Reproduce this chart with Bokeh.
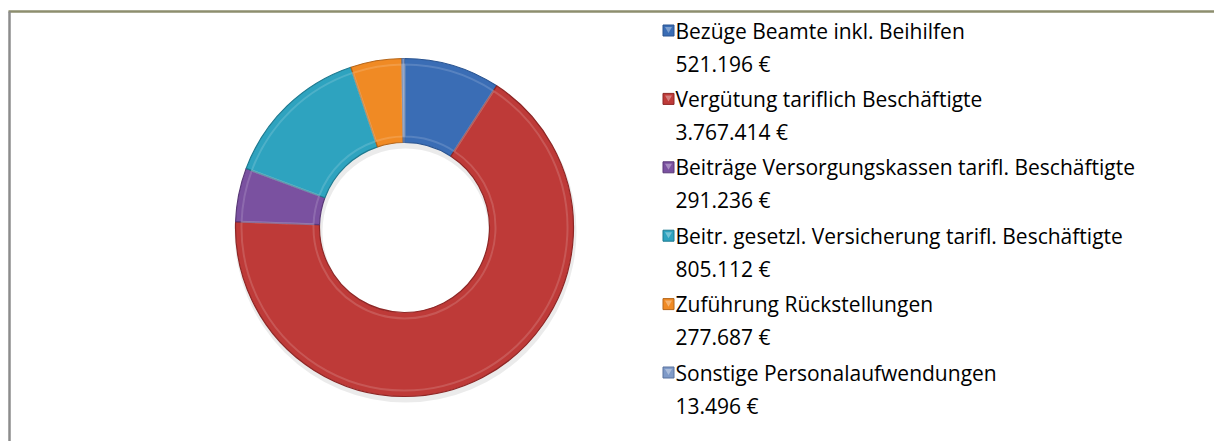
import math
from bokeh.plotting import figure
from bokeh.models import Range1d, ColumnDataSource
from bokeh.core.properties import value
from bokeh.embed import file_html
from bokeh.resources import INLINE

categories = [
    "Bezüge Beamte inkl. Beihilfen",
    "Vergütung tariflich Beschäftigte",
    "Beiträge Versorgungskassen tarifl. Beschäftigte",
    "Beitr. gesetzl. Versicherung tarifl. Beschäftigte",
    "Zuführung Rückstellungen",
    "Sonstige Personalaufwendungen",
]
amounts = [521196, 3767414, 291236, 805112, 277687, 13496]
amount_labels = ["521.196 €", "3.767.414 €", "291.236 €", "805.112 €", "277.687 €", "13.496 €"]
colors = ["#3A6DB5", "#BE3A38", "#7A51A0", "#2EA3BF", "#F08A24", "#7F9AC8"]
edge_colors = ["#2A5490", "#8E2726", "#5A3978", "#1F7A90", "#B5661A", "#5A739E"]

W, H = 1214, 441
p = figure(width=W, height=H, output_backend="svg", toolbar_location=None,
           x_range=Range1d(0, W), y_range=Range1d(0, H), min_border=0)
p.axis.visible = False
p.grid.visible = False
p.outline_line_color = None
p.background_fill_color = "white"
p.border_fill_color = "white"

# chart-area border (top and left visible)
p.line([8, W], [H - 11, H - 11], line_color="#8D8E6E", line_width=2.5)
p.line([9, 9], [0, H - 11], line_color="#8C8C8C", line_width=2.5)

# donut
cx, cy = 404, H - 227
r_out, r_in = 169, 85
total = float(sum(amounts))
starts, ends = [], []
cum = 0.0
for a in amounts:
    starts.append(math.pi / 2 - 2 * math.pi * cum / total)
    cum += a
    ends.append(math.pi / 2 - 2 * math.pi * cum / total)

# soft shadow
p.annular_wedge(x=cx + 1, y=cy - 4, inner_radius=r_in - 2, outer_radius=r_out + 2,
                start_angle=0, end_angle=2 * math.pi, fill_color="#000000",
                fill_alpha=0.08, line_color=None)

src = ColumnDataSource(dict(start=starts, end=ends, color=colors, edge=edge_colors))
p.annular_wedge(x=cx, y=cy, inner_radius=r_in, outer_radius=r_out,
                start_angle="start", end_angle="end", direction="clock",
                fill_color="color", line_color="edge", line_width=1.2, source=src)
# inner bevel highlight
p.annular_wedge(x=cx, y=cy, inner_radius=r_in + 6, outer_radius=r_out - 6,
                start_angle="start", end_angle="end", direction="clock",
                fill_color=None, line_color="white", line_alpha=0.15, line_width=2, source=src)

# legend
tx = 675
mx = 668
lab_y, amt_y = [], []
for i in range(len(categories)):
    y1 = 30 + 68.4 * i
    lab_y.append(H - y1)
    amt_y.append(H - (y1 + 33))
p.rect(x=[mx] * len(categories), y=lab_y, width=11, height=11,
       fill_color=colors, line_color=edge_colors, line_width=1)
p.scatter(x=[mx] * len(categories), y=[v + 1.5 for v in lab_y], marker="inverted_triangle",
          size=7, fill_color="white", fill_alpha=0.35, line_color=None)
p.text(x=[tx] * len(categories), y=lab_y, text=categories,
       text_font=value("Open Sans"), text_font_size="21px", text_color="#000000",
       text_baseline="middle", text_align="left")
p.text(x=[tx] * len(categories), y=amt_y, text=amount_labels,
       text_font=value("Open Sans"), text_font_size="21px", text_color="#000000",
       text_baseline="middle", text_align="left")

open("out.html", "w").write(file_html(p, INLINE))
